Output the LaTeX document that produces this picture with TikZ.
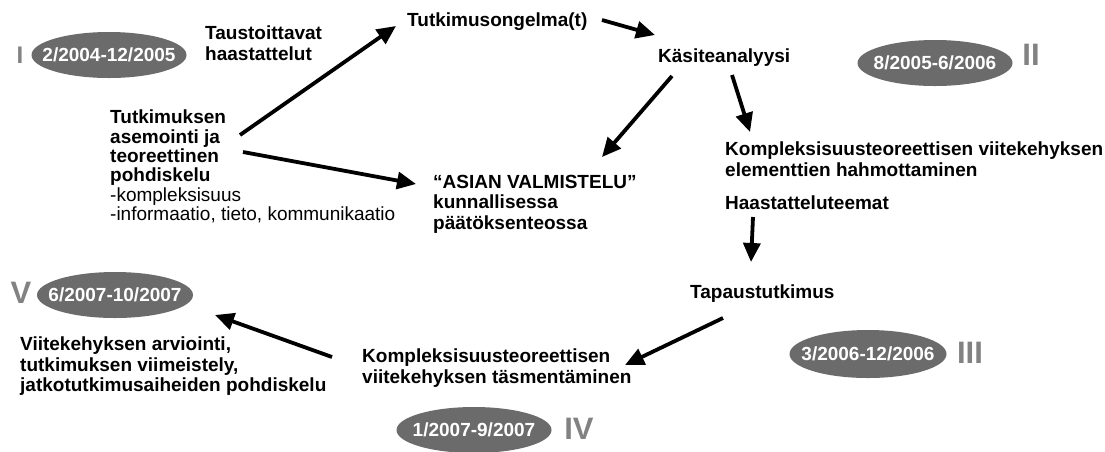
\documentclass[tikz,border=0pt]{standalone}
\usepackage{fontspec}
\setmainfont{Liberation Sans}
\usetikzlibrary{arrows.meta,shapes.geometric}
\definecolor{pill}{HTML}{6B6B6B}
\definecolor{numeral}{HTML}{828282}
\newcommand{\pilltext}[1]{\makebox[0pt]{#1}}
\tikzset{
  txt/.style={font=\bfseries\fontsize{19}{20.5}\selectfont, align=left, anchor=north west, inner sep=0pt},
  line/.style={font=\bfseries\fontsize{19}{20.5}\selectfont, anchor=base west, inner sep=0pt},
  period/.style={ellipse, fill=pill, minimum width=155pt, minimum height=46pt, inner sep=0pt,
    text=white, font=\bfseries\fontsize{19}{20}\selectfont},
  phase/.style={text=numeral, font=\bfseries\fontsize{31}{31}\selectfont, inner sep=0pt},
  flow/.style={line width=3.8pt, -{Triangle[length=19pt,width=17pt]}},
}
\begin{document}
\begin{tikzpicture}[x=1pt,y=-1pt]
\useasboundingbox[fill=white] (0,0) rectangle (1105,451);

% time periods and phase numerals
\node[period] (p1) at (109,55) {\pilltext{2/2004-12/2005}};
\node[phase, font=\bfseries\fontsize{24}{24}\selectfont] (r1) at (20,55) {I};
\node[period] (p2) at (935,63) {\pilltext{8/2005-6/2006}};
\node[phase] (r2) at (1031,55) {II};
\node[period, minimum width=157pt, minimum height=48pt] (p3) at (868,354) {\pilltext{3/2006-12/2006}};
\node[phase] (r3) at (970,353) {III};
\node[period] (p4) at (474,430) {\pilltext{1/2007-9/2007}};
\node[phase] (r4) at (579,429) {IV};
\node[period, minimum width=156pt] (p5) at (115,295) {\pilltext{6/2007-10/2007}};
\node[phase] (r5) at (21,293) {V};

% work stages
\node[txt] (tausta) at (205,26) {Taustoittavat\\haastattelut};
\node[txt, font=\bfseries\fontsize{19}{19.3}\selectfont] (asemointi) at (110,110)
  {Tutkimuksen\\asemointi ja\\teoreettinen\\pohdiskelu\\
   \mdseries -kompleksisuus\\\mdseries -informaatio, tieto, kommunikaatio};
\node[line] (ongelma) at (407,26) {Tutkimusongelma(t)};
\node[line] (kasite) at (658,62) {Käsiteanalyysi};
\node[txt] (asia) at (433,175) {“ASIAN VALMISTELU”\\kunnallisessa\\päätöksenteossa};
\node[txt, font=\bfseries\fontsize{19}{21}\selectfont] (elementit) at (725,142)
  {Kompleksisuusteoreettisen viitekehyksen\\elementtien hahmottaminen};
\node[line] (teemat) at (725,209) {Haastatteluteemat};
\node[line] (tapaus) at (690,298) {Tapaustutkimus};
\node[txt] (tasm) at (362,349) {Kompleksisuusteoreettisen\\viitekehyksen täsmentäminen};
\node[txt] (arvio) at (20,337)
  {Viitekehyksen arviointi,\\tutkimuksen viimeistely,\\jatkotutkimusaiheiden pohdiskelu};

% arrow end points
\coordinate (a1s) at (240,135);  \coordinate (a1e) at (396,26);
\coordinate (a2s) at (243,152);  \coordinate (a2e) at (416,184);
\coordinate (a3s) at (602,20);   \coordinate (a3e) at (655,35);
\coordinate (a4s) at (672,76);   \coordinate (a4e) at (602,157);
\coordinate (a5s) at (732,75);   \coordinate (a5e) at (750,132);
\coordinate (a6s) at (753,217);  \coordinate (a6e) at (751,262);
\coordinate (a7s) at (723,318);  \coordinate (a7e) at (625,365);
\coordinate (a8s) at (332,357);  \coordinate (a8e) at (215,315);

\draw[flow] (a1s) -- (a1e);
\draw[flow] (a2s) -- (a2e);
\draw[flow] (a3s) -- (a3e);
\draw[flow] (a4s) -- (a4e);
\draw[flow] (a5s) -- (a5e);
\draw[flow] (a6s) -- (a6e);
\draw[flow] (a7s) -- (a7e);
\draw[flow] (a8s) -- (a8e);
\end{tikzpicture}
\end{document}
